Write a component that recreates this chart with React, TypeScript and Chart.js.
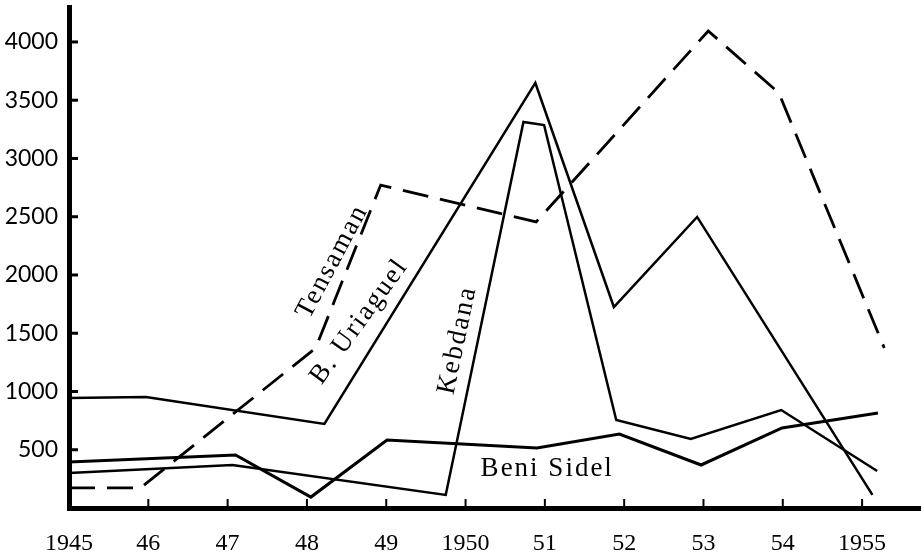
import { useEffect, useRef } from "react";
import { Chart, registerables } from "chart.js";

Chart.register(...registerables);

// ---- data ----
const yearTicks = [1945, 1946, 1947, 1948, 1949, 1950, 1951, 1952, 1953, 1954, 1955];
const yearLabels = ["1945", "46", "47", "48", "49", "1950", "51", "52", "53", "54", "1955"];
const valueTicks = [500, 1000, 1500, 2000, 2500, 3000, 3500, 4000];

const tensamanYears = [1945, 1945.9, 1948.11, 1948.93, 1950.89, 1953.06, 1953.95, 1955.28];
const tensamanValues = [172, 172, 1373, 2772, 2455, 4094, 3562, 1373];

const uriaguelYears = [1945, 1945.97, 1948.22, 1950.88, 1951.87, 1952.92, 1955.13];
const uriaguelValues = [944, 953, 721, 3648, 1725, 2498, 112];

const kebdanaYears = [1945, 1947.06, 1949.75, 1950.73, 1950.99, 1951.9, 1952.84, 1953.98, 1955.19];
const kebdanaValues = [300, 369, 112, 3313, 3287, 755, 592, 841, 318];

const beniSidelYears = [1945, 1947.1, 1948.05, 1949.01, 1950.9, 1951.94, 1952.97, 1953.99, 1955.2];
const beniSidelValues = [395, 455, 94, 584, 515, 635, 369, 687, 815];

const seriesLabels = [
  { text: "Tensaman", year: 1948.32, value: 2115, angle: -62 },
  { text: "B. Uriaguel", year: 1948.66, value: 1600, angle: -54 },
  { text: "Kebdana", year: 1949.9, value: 1440, angle: -78 },
  { text: "Beni Sidel", year: 1951.03, value: 335, angle: 0 },
];

const pts = (xs: number[], ys: number[]) => xs.map((x, i) => ({ x, y: ys[i] }));

const decorPlugin = {
  id: "decor",
  afterDatasetsDraw(chart: any) {
    const { ctx, chartArea, scales } = chart;
    const xs = scales.x;
    const ys = scales.y;
    ctx.save();
    ctx.strokeStyle = "#000";
    // y ticks (inside, pointing right)
    ctx.lineWidth = 3;
    valueTicks.forEach((v) => {
      const y = ys.getPixelForValue(v);
      ctx.beginPath();
      ctx.moveTo(chartArea.left, y);
      ctx.lineTo(chartArea.left + 9, y);
      ctx.stroke();
    });
    // x ticks (inside, pointing up)
    ctx.lineWidth = 2;
    yearTicks.slice(1).forEach((v) => {
      const x = xs.getPixelForValue(v);
      ctx.beginPath();
      ctx.moveTo(x, chartArea.bottom);
      ctx.lineTo(x, chartArea.bottom - 9);
      ctx.stroke();
    });
    // series labels
    ctx.fillStyle = "#000";
    ctx.font = "27px 'Liberation Serif'";
    try {
      (ctx as any).letterSpacing = "2px";
    } catch (e) {}
    ctx.textAlign = "center";
    ctx.textBaseline = "middle";
    seriesLabels.forEach((l) => {
      const x = xs.getPixelForValue(l.year);
      const y = ys.getPixelForValue(l.value);
      ctx.save();
      ctx.translate(x, y);
      ctx.rotate((l.angle * Math.PI) / 180);
      ctx.fillText(l.text, 0, 0);
      ctx.restore();
    });
    ctx.restore();
  },
};

export default function App() {
  const ref = useRef<HTMLCanvasElement | null>(null);

  useEffect(() => {
    if (!ref.current) return;
    const common = {
      borderColor: "#000",
      pointRadius: 0,
      tension: 0,
      fill: false,
      borderJoinStyle: "miter" as const,
      borderCapStyle: "butt" as const,
    };
    const chart = new Chart(ref.current, {
      type: "line",
      data: {
        datasets: [
          { ...common, label: "Tensaman", data: pts(tensamanYears, tensamanValues), borderWidth: 2.8, borderDash: [26, 12] },
          { ...common, label: "B. Uriaguel", data: pts(uriaguelYears, uriaguelValues), borderWidth: 2.5 },
          { ...common, label: "Kebdana", data: pts(kebdanaYears, kebdanaValues), borderWidth: 2.5 },
          { ...common, label: "Beni Sidel", data: pts(beniSidelYears, beniSidelValues), borderWidth: 3.1 },
        ],
      },
      options: {
        responsive: false,
        animation: false,
        layout: { padding: { top: 7, right: 4, left: 0, bottom: 0 } },
        plugins: { legend: { display: false }, tooltip: { enabled: false } },
        scales: {
          x: {
            type: "linear",
            min: 1945,
            max: 1955.73,
            afterBuildTicks: (s: any) => {
              s.ticks = yearTicks.map((v) => ({ value: v }));
            },
            afterFit: (s: any) => {
              s.height = 51;
              s.paddingLeft = 0;
              s.paddingRight = 0;
            },
            grid: { display: false, drawTicks: false },
            border: { display: true, color: "#000", width: 5 },
            ticks: {
              autoSkip: false,
              maxRotation: 0,
              minRotation: 0,
              padding: 21,
              color: "#000",
              font: { family: "'Liberation Serif'", size: 24 },
              callback: (_v: any, i: number) => yearLabels[i],
            },
          },
          y: {
            type: "linear",
            min: 0,
            max: 4300,
            afterBuildTicks: (s: any) => {
              s.ticks = valueTicks.map((v) => ({ value: v }));
            },
            afterFit: (s: any) => {
              s.width = 69;
              s.paddingTop = 0;
              s.paddingBottom = 0;
            },
            grid: { display: false, drawTicks: false },
            border: { display: true, color: "#000", width: 5 },
            ticks: {
              padding: 11,
              color: "#000",
              font: { family: "Lato", size: 23 },
              callback: (v: any) => String(v),
            },
          },
        },
      },
      plugins: [decorPlugin],
    });
    return () => chart.destroy();
  }, []);

  return (
    <div style={{ position: "fixed", left: 0, top: 0, width: 924, height: 559, background: "#fff" }}>
      <canvas ref={ref} width={924} height={559} style={{ display: "block" }} />
    </div>
  );
}
